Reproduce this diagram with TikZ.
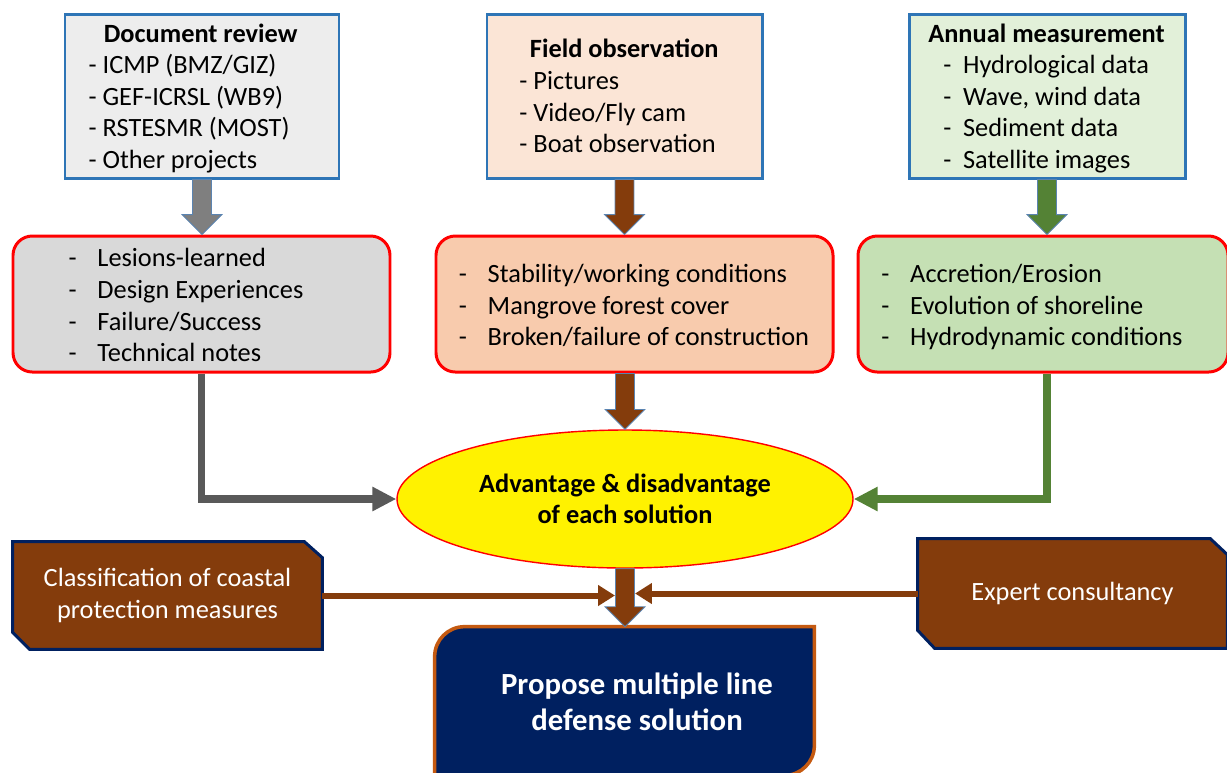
\documentclass[tikz,border=0pt]{standalone}
\usepackage{fontspec}
\setmainfont{Carlito}
\usetikzlibrary{calc,arrows.meta,backgrounds,shapes.geometric}
\definecolor{boxblue}{HTML}{2E75B6}
\definecolor{docfill}{HTML}{EDEDED}
\definecolor{fieldfill}{HTML}{FBE5D6}
\definecolor{annfill}{HTML}{E2F0D9}
\definecolor{lesfill}{HTML}{D9D9D9}
\definecolor{midfill}{HTML}{F8CBAD}
\definecolor{hydfill}{HTML}{C5E0B4}
\definecolor{brownc}{HTML}{843C0C}
\definecolor{navy}{HTML}{002060}
\definecolor{orangeb}{HTML}{C55A11}
\definecolor{graybl}{HTML}{7F7F7F}
\definecolor{grayln}{HTML}{595959}
\definecolor{greenc}{HTML}{548235}
\definecolor{arrowedge}{HTML}{5B84B1}
\newcommand\pxl[1]{#1*0.02cm}
\newcommand\blockarr[3]{%
  \draw[fill=#1, draw=arrowedge, line width=0.5pt] let \p1=(#2), \p2=(#3) in
  (\x1-5.4pt,\y1) -- (\x1+5.4pt,\y1) -- (\x1+5.4pt,\y2+11.3pt) -- (\x1+11.3pt,\y2+11.3pt)
  -- (\x1,\y2) -- (\x1-11.3pt,\y2+11.3pt) -- (\x1-5.4pt,\y2+11.3pt) -- cycle;}
\tikzset{
  topbox/.style={draw=boxblue, line width=1.7pt, minimum height=\pxl{164}, inner sep=0pt},
  midbox/.style={draw=red, line width=1.7pt, rounded corners=11pt, minimum height=\pxl{136}, inner sep=0pt},
  txt/.style={font=\fontsize{15}{18}\selectfont, inner sep=0pt, text=black},
  wtxt/.style={font=\fontsize{15}{18}\selectfont, inner sep=0pt, text=white, align=center},
  grayconn/.style={draw=grayln, line width=4pt, -{Triangle[length=13.6pt,width=13pt]}},
  greenconn/.style={draw=greenc, line width=4pt, -{Triangle[length=13.6pt,width=13pt]}},
  brownln/.style={draw=brownc, line width=3.4pt, -{Triangle[length=9.6pt,width=11.3pt]}},
}
\begin{document}
\begin{tikzpicture}[x=0.02cm, y=-0.02cm]
\useasboundingbox (0,0) rectangle (1227,772);
\begin{scope}[on background layer]
  \fill[white] (0,0) rectangle (1227,772);
\end{scope}

% top boxes
\node[topbox, fill=docfill, minimum width=\pxl{274}] (doc) at (202,96) {};
\node[topbox, fill=fieldfill, minimum width=\pxl{275}] (field) at (624.5,96) {};
\node[topbox, fill=annfill, minimum width=\pxl{276}] (ann) at (1047,96) {};

\node[txt] (doctxt) at (191,99) {\begin{tabular}{@{}l@{}}\multicolumn{1}{@{}c@{}}{\hspace{11pt}\textbf{Document review}}\\\hspace{2.3pt}- ICMP (BMZ/GIZ)\\\hspace{2.3pt}- GEF-ICRSL (WB9)\\\hspace{2.3pt}- RSTESMR (MOST)\\\hspace{2.3pt}- Other projects\end{tabular}};
\node[txt] (fieldtxt) at (619,99) {\begin{tabular}{@{}l@{}}\multicolumn{1}{@{}c@{}}{\hspace{6pt}\textbf{Field observation}}\\- Pictures\\- Video/Fly cam\\- Boat observation\end{tabular}};
\node[txt] (anntxt) at (1046.5,99) {\begin{tabular}{@{}l@{}}\multicolumn{1}{@{}c@{}}{\textbf{Annual measurement}}\\\hspace{8.5pt}-\hspace{6.7pt}Hydrological data\\\hspace{8.5pt}-\hspace{6.7pt}Wave, wind data\\\hspace{8.5pt}-\hspace{6.7pt}Sediment data\\\hspace{8.5pt}-\hspace{6.7pt}Satellite images\end{tabular}};

% middle boxes
\node[midbox, fill=lesfill, minimum width=\pxl{377}] (les) at (201.5,304) {};
\node[midbox, fill=midfill, minimum width=\pxl{397}] (mid) at (634.5,304) {};
\node[midbox, fill=hydfill, minimum width=\pxl{370}] (hyd) at (1043,304) {};

\node[txt] (lestxt) at (186,308) {\begin{tabular}{@{}l@{\hspace{11.8pt}}l@{}}-&Lesions-learned\\-&Design Experiences\\-&Failure/Success\\-&Technical notes\end{tabular}};
\node[txt] (midtxt) at (634,308) {\begin{tabular}{@{}l@{\hspace{11.8pt}}l@{}}-&Stability/working conditions\\-&Mangrove forest cover\\-&Broken/failure of construction\end{tabular}};
\node[txt] (hydtxt) at (1032,308) {\begin{tabular}{@{}l@{\hspace{11.8pt}}l@{}}-&Accretion/Erosion\\-&Evolution of shoreline\\-&Hydrodynamic conditions\end{tabular}};

% ellipse
\node[ellipse, draw=red, line width=0.8pt, fill=yellow, minimum width=\pxl{456}, minimum height=\pxl{138}, inner sep=0pt,
      font=\fontsize{15}{18}\selectfont\bfseries, align=center] (adv) at (625,499) {Advantage \& disadvantage\\of each solution};

% side brown boxes
\node[wtxt, minimum width=\pxl{309}, minimum height=\pxl{107}] (cls) at (167.5,595.5) {Classification of coastal\\protection measures};
\node[wtxt, minimum width=\pxl{309}, minimum height=\pxl{109}] (exp) at (1072.5,593.5) {Expert consultancy};
\begin{scope}[on background layer]
  \filldraw[fill=brownc, draw=navy, line width=1.7pt]
    (cls.north west) -- ($(cls.north east)+(-18,0)$) -- ($(cls.north east)+(0,16)$) -- (cls.south east)
    -- ($(cls.south west)+(17,0)$) -- ($(cls.south west)+(0,-17)$) -- cycle;
  \filldraw[fill=brownc, draw=navy, line width=1.7pt]
    (exp.north west) -- ($(exp.north east)+(-17,0)$) -- ($(exp.north east)+(0,16)$) -- (exp.south east)
    -- ($(exp.south west)+(17,0)$) -- ($(exp.south west)+(0,-18)$) -- cycle;
\end{scope}

% bottom box
\node[minimum width=\pxl{379}, minimum height=\pxl{148}, inner sep=0pt] (prop) at (624.5,701) {};
\filldraw[fill=navy, draw=orangeb, line width=2pt] let \p1=(prop.north west), \p2=(prop.south east) in
  (\x1,\y1-17pt) arc[start angle=180, end angle=90, radius=17pt] -- (\x2,\y1) -- (\x2,\y2+17pt)
  arc[start angle=0, end angle=-90, radius=17pt] -- (\x1,\y2) -- cycle;
\node[font=\fontsize{17.5}{20.4}\selectfont\bfseries, text=white, align=center, inner sep=0pt] (proptxt) at (637,702) {Propose multiple line\\defense solution};

% block arrows
\blockarr{graybl}{doc.south}{doc.south |- les.north}
\blockarr{brownc}{field.south}{field.south |- mid.north}
\blockarr{greenc}{ann.south}{ann.south |- hyd.north}
\blockarr{brownc}{adv.north |- mid.south}{adv.north}
\blockarr{brownc}{adv.south}{adv.south |- prop.north}

% connectors
\draw[grayconn] (les.south) |- (adv.west);
\draw[greenconn] (ann.south |- hyd.south) |- (adv.east);
\draw[brownln] (cls.east) -- ($(adv.south |- cls.east)+(-10,0)$);
\draw[brownln] (exp.west) -- ($(adv.south |- exp.west)+(10,0)$);
\end{tikzpicture}
\end{document}
